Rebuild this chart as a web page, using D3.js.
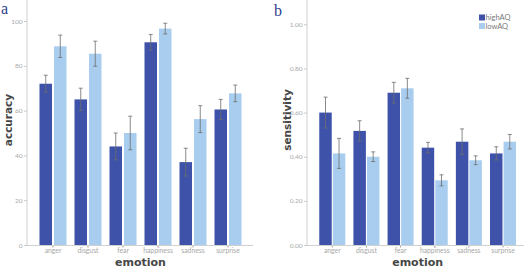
<!DOCTYPE html>
<html><head><meta charset="utf-8">
<script src="https://cdn.jsdelivr.net/npm/d3@7"></script>
<style>
body{margin:0;background:#fff;}
svg{display:block;}
</style></head>
<body>
<svg id="c" width="524" height="267"></svg>
<script>
const emotions = ["anger","disgust","fear","happiness","sadness","surprise"];
const groups = ["highAQ","lowAQ"];
// panel a: accuracy (%)
const accHigh = [72, 65, 44, 90.5, 37, 60.5];
const accLow  = [88.7, 85.4, 50, 96.6, 56.2, 67.7];
const accHighErr = [3.8, 5, 6, 3.5, 6.2, 4.5];
const accLowErr  = [5, 5.6, 7.5, 2.4, 6, 3.7];
const accTicks = [0, 20, 40, 60, 80, 100];
// panel b: sensitivity
const senHigh = [0.60, 0.517, 0.69, 0.441, 0.468, 0.415];
const senLow  = [0.415, 0.40, 0.71, 0.293, 0.384, 0.468];
const senHighErr = [0.07, 0.046, 0.047, 0.024, 0.058, 0.03];
const senLowErr  = [0.068, 0.022, 0.045, 0.025, 0.02, 0.033];
const senTicks = [0, 0.2, 0.4, 0.6, 0.8, 1.0];

const colors = {highAQ:"#3d52a8", lowAQ:"#a9cdee"};
const svg = d3.select("#c");
const tickFont = "Lato, 'DejaVu Sans', sans-serif";

function panel(opt){
  const g = svg.append("g");
  const y = d3.scaleLinear().domain(opt.domain).range([245, opt.yTop]);
  const x0 = d3.scaleBand().domain(emotions).range(opt.band);
  const inset = (x0.bandwidth() - opt.pairW)/2;
  const x1 = d3.scaleBand().domain(groups).range([inset, x0.bandwidth()-inset]).paddingInner(opt.gap);
  const rows = emotions.map((e,i)=>({e, vals:[
    {k:"highAQ", v:opt.high[i], err:opt.highErr[i]},
    {k:"lowAQ", v:opt.low[i], err:opt.lowErr[i]}]}));
  // bars
  const gg = g.selectAll("g.grp").data(rows).join("g")
    .attr("transform", d=>`translate(${x0(d.e)},0)`);
  gg.selectAll("rect").data(d=>d.vals).join("rect")
    .attr("x", d=>x1(d.k)).attr("width", x1.bandwidth())
    .attr("y", d=>y(d.v)).attr("height", d=>y(opt.domain[0])-y(d.v))
    .attr("fill", d=>colors[d.k]);
  // error bars
  const eb = gg.selectAll("g.eb").data(d=>d.vals).join("g")
    .attr("stroke","#6d6d6d").attr("stroke-width",0.8);
  eb.append("line").attr("x1",d=>x1(d.k)+x1.bandwidth()/2).attr("x2",d=>x1(d.k)+x1.bandwidth()/2)
    .attr("y1",d=>y(d.v+d.err)).attr("y2",d=>y(d.v-d.err));
  [1,-1].forEach(s=>{
    eb.append("line").attr("x1",d=>x1(d.k)+x1.bandwidth()/2-2).attr("x2",d=>x1(d.k)+x1.bandwidth()/2+2)
      .attr("y1",d=>y(d.v+s*d.err)).attr("y2",d=>y(d.v+s*d.err));
  });
  // y axis
  const ya = g.append("g").attr("transform",`translate(${opt.axisX},0)`)
    .call(d3.axisLeft(y).tickValues(opt.ticks).tickFormat(opt.fmt).tickSize(3).tickPadding(1.5));
  ya.select(".domain").remove();
  ya.selectAll(".tick line").attr("stroke","#c8c8c8");
  ya.selectAll("text").attr("fill","#a8a8a8").style("font-family",tickFont).style("font-size","6.5px");
  g.append("line").attr("x1",opt.axisX).attr("x2",opt.axisX).attr("y1",0).attr("y2",245.5)
    .attr("stroke","#d0d0d0").attr("stroke-width",1);
  // x axis
  const xa = g.append("g").attr("transform","translate(0,245)")
    .call(d3.axisBottom(x0).tickSize(2.5).tickPadding(1));
  xa.select(".domain").remove();
  xa.selectAll(".tick line").attr("stroke","#a0a0a0");
  xa.selectAll("text").attr("fill","#a8a8a8").style("font-family",tickFont).style("font-size","6.8px");
  g.append("line").attr("x1",opt.axisX).attr("x2",opt.xEnd).attr("y1",245.5).attr("y2",245.5)
    .attr("stroke","#d0d0d0").attr("stroke-width",1);
  // titles
  g.append("text").attr("transform",`translate(${opt.titleX},120) rotate(-90)`)
    .attr("text-anchor","middle").attr("fill","#474747")
    .style("font-family","'DejaVu Sans', sans-serif").style("font-weight","bold").style("font-size","10.5px")
    .text(opt.yTitle);
  g.append("text").attr("x",(opt.band[0]+opt.band[1])/2).attr("y",265.5)
    .attr("text-anchor","middle").attr("fill","#474747")
    .style("font-family","'DejaVu Sans', sans-serif").style("font-weight","bold").style("font-size","11px")
    .text("emotion");
  g.append("text").attr("x",opt.letterX).attr("y",opt.letterY).attr("fill","#2c3d8f")
    .style("font-family","'Liberation Serif', serif").style("font-size","16px")
    .text(opt.letter);
}

panel({domain:[0,100], yTop:21, band:[35.5,245.5], pairW:27, gap:0.138, axisX:27, xEnd:253,
  high:accHigh, low:accLow, highErr:accHighErr, lowErr:accLowErr, ticks:accTicks, fmt:d3.format("d"),
  yTitle:"accuracy", titleX:12, letter:"a", letterX:1, letterY:14});
panel({domain:[0,1], yTop:24.3, band:[315.2,520.1], pairW:26, gap:0.08, axisX:307, xEnd:524,
  high:senHigh, low:senLow, highErr:senHighErr, lowErr:senLowErr, ticks:senTicks, fmt:d3.format(".2f"),
  yTitle:"sensitivity", titleX:291, letter:"b", letterX:274, letterY:16});

// legend
const lg = svg.append("g").attr("transform","translate(479,14.5)");
groups.forEach((k,i)=>{
  lg.append("rect").attr("x",0).attr("y",i*8.5).attr("width",6).attr("height",6).attr("fill",colors[k]);
  lg.append("text").attr("x",6.5).attr("y",i*8.5+5.8).attr("fill","#7a7a7a")
    .style("font-family",tickFont).style("font-size","7.5px").text(k);
});
</script>
</body></html>
